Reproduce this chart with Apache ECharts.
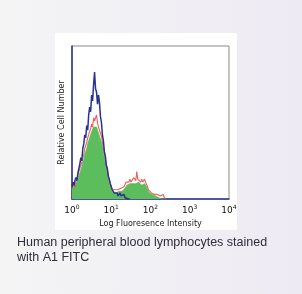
<!DOCTYPE html>
<html><head><meta charset="utf-8">
<script src="https://cdn.jsdelivr.net/npm/echarts@6/dist/echarts.min.js"></script>
<style>
html,body{margin:0;padding:0;}
body{width:302px;height:294px;background:linear-gradient(90deg,#f4f4f5 0%,#f1f0f4 45%,#eeeaf4 100%);}
#c{width:302px;height:294px;}
</style></head><body><div id="c"></div>
<script>
const binStep = 0.025;
const blueVals = [8,11,9,12,14,12,17,20,23,27,25,33,36,42,40,48,45,55,60,57,68,64,75,83,72,70,62,68,63,54,50,42,38,31,28,22,20,15,13,10,9,6,7,4,5,3,4,2,3,4,2,3,1,3,1,0,0,0,0,0];
const greenVals = [6,8,9,7,9,11,12,15,17,19,21,24,26,29,31,33,36,38,40,42,44,45,47,48,47,47,45,43,41,40,37,34,30,27,23,20,16,13,10,8,6,5,4,3,3,4,4,5,5,4,4,5,5,6,7,8,9,9,10,10,9,10,10,11,11,10,10,11,11,10,10,9,9,10,10,9,8,6,5,4,3,3,3,2,2,2,2,1,1,1,1,0,0,0,0,0,0];
const redVals = [7,10,11,8,11,13,14,18,19,22,24,27,29,33,34,37,40,41,44,46,49,47,53,51,50,55,50,47,46,43,41,37,33,30,26,22,19,15,12,10,8,6,7,5,6,5,7,6,7,5,7,6,7,8,9,11,10,12,11,13,11,12,12,14,13,12,18,13,12,14,11,13,11,12,13,11,10,8,6,5,5,4,5,4,3,4,3,3,4,3,2,3,1,3,1,0,0];
const tickExps = ['0','1','2','3','4'];
const xTitle = 'Log Fluoresence Intensity';
const yTitle = 'Relative Cell Number';
const caption = 'Human peripheral blood lymphocytes stained\nwith A1 FITC';

const pair = v => v.map((y, i) => [+(i * binStep).toFixed(3), y]);
const chart = echarts.init(document.getElementById('c'));
chart.setOption({
  animation: false,
  backgroundColor: 'transparent',
  graphic: [
    {type: 'rect', z: -10, shape: {x: 55, y: 33, width: 182, height: 197}, style: {fill: '#ffffff'}},
    {type: 'text', left: 17, top: 235, style: {text: caption, font: '12.5px "Liberation Sans", Arial, sans-serif', fill: '#2e2e3a', lineHeight: 15}}
  ],
  grid: {left: 72, top: 46, width: 157, height: 153, show: true, borderColor: '#8a8a8a', borderWidth: 1, backgroundColor: '#fff'},
  xAxis: {
    type: 'value', min: 0, max: 4, interval: 1,
    name: xTitle, nameLocation: 'middle', nameGap: 20,
    nameTextStyle: {fontSize: 8, color: '#222', fontFamily: 'DejaVu Sans'},
    axisLine: {show: true, lineStyle: {color: '#2b3190', width: 1.5}},
    axisTick: {show: false}, splitLine: {show: false},
    axisLabel: {
      margin: 5,
      formatter: v => '{b|10}{s|' + tickExps[Math.round(v)] + '}',
      rich: {b: {fontSize: 9, color: '#111', fontFamily: 'DejaVu Sans'}, s: {fontSize: 6, color: '#111', verticalAlign: 'bottom', padding: [0,0,8,0], fontFamily: 'DejaVu Sans'}}
    }
  },
  yAxis: {
    type: 'value', min: 0, max: 100,
    name: yTitle, nameLocation: 'middle', nameGap: 6, nameRotate: 90,
    nameTextStyle: {fontSize: 8, color: '#222', fontFamily: 'DejaVu Sans'},
    axisLine: {show: true, lineStyle: {color: '#2b3190', width: 1.5}},
    axisTick: {show: false}, axisLabel: {show: false}, splitLine: {show: false}
  },
  series: [
    {type: 'line', data: pair(greenVals), symbol: 'none', lineStyle: {width: 0.8, color: '#5cbd5c'}, areaStyle: {color: '#5cbd5c', opacity: 1}, z: 2},
    {type: 'line', data: pair(redVals), symbol: 'none', lineStyle: {width: 1.1, color: '#e8453c', opacity: 0.85}, z: 3},
    {type: 'line', data: pair(blueVals), symbol: 'none', lineStyle: {width: 1.5, color: '#2b3190'}, z: 4}
  ]
});
</script></body></html>
